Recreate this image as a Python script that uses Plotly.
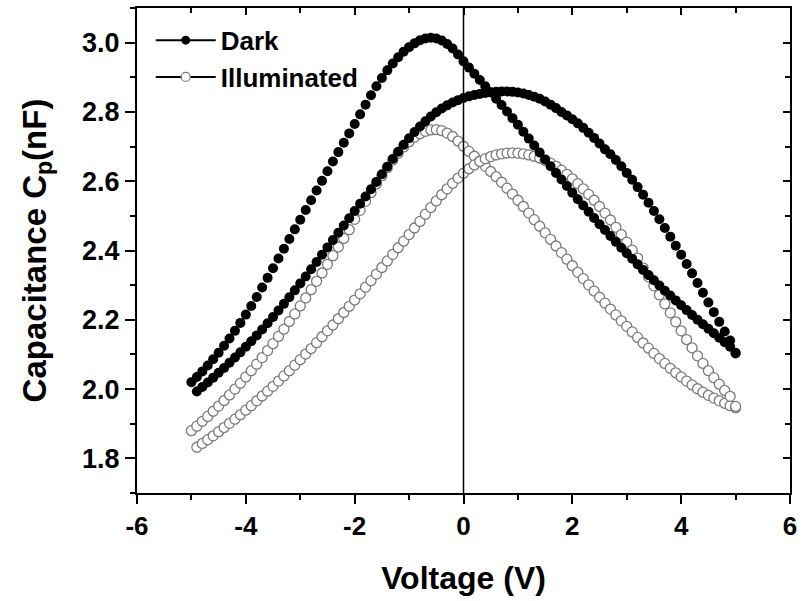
import plotly.graph_objects as go

voltage = [-5.0, -4.9, -4.8, -4.7, -4.6, -4.5, -4.4, -4.3, -4.2, -4.1,
           -4.0, -3.9, -3.8, -3.7, -3.6, -3.5, -3.4, -3.3, -3.2, -3.1,
           -3.0, -2.9, -2.8, -2.7, -2.6, -2.5, -2.4, -2.3, -2.2, -2.1,
           -2.0, -1.9, -1.8, -1.7, -1.6, -1.5, -1.4, -1.3, -1.2, -1.1,
           -1.0, -0.9, -0.8, -0.7, -0.6, -0.5, -0.4, -0.3, -0.2, -0.1,
           0.0, 0.1, 0.2, 0.3, 0.4, 0.5, 0.6, 0.7, 0.8, 0.9,
           1.0, 1.1, 1.2, 1.3, 1.4, 1.5, 1.6, 1.7, 1.8, 1.9,
           2.0, 2.1, 2.2, 2.3, 2.4, 2.5, 2.6, 2.7, 2.8, 2.9,
           3.0, 3.1, 3.2, 3.3, 3.4, 3.5, 3.6, 3.7, 3.8, 3.9,
           4.0, 4.1, 4.2, 4.3, 4.4, 4.5, 4.6, 4.7, 4.8, 4.9, 5.0]

# Dark, sweep branch with peak near -0.6 V
dark_a = [2.020, 2.035, 2.051, 2.068, 2.086, 2.105, 2.125, 2.146, 2.168, 2.191,
          2.215, 2.240, 2.266, 2.293, 2.321, 2.349, 2.377, 2.405, 2.433, 2.461,
          2.489, 2.517, 2.545, 2.573, 2.601, 2.629, 2.657, 2.684, 2.711, 2.738,
          2.765, 2.793, 2.821, 2.848, 2.874, 2.898, 2.920, 2.940, 2.958, 2.974,
          2.987, 2.998, 3.007, 3.012, 3.014, 3.012, 3.006, 2.996, 2.983, 2.966,
          2.946, 2.928, 2.910, 2.892, 2.874, 2.856, 2.838, 2.820, 2.801, 2.782,
          2.763, 2.743, 2.723, 2.703, 2.683, 2.663, 2.643, 2.624, 2.605, 2.586,
          2.567, 2.548, 2.530, 2.512, 2.494, 2.476, 2.459, 2.442, 2.425, 2.408,
          2.392, 2.376, 2.360, 2.344, 2.329, 2.314, 2.299, 2.284, 2.270, 2.256,
          2.242, 2.228, 2.214, 2.200, 2.187, 2.174, 2.161, 2.148, 2.135, 2.122, 2.105]

# Dark, sweep branch with peak near +0.75 V (starts at -4.9 V)
dark_b = [None, 1.993, 2.006, 2.019, 2.033, 2.047, 2.061, 2.076, 2.091, 2.106,
          2.122, 2.138, 2.155, 2.172, 2.190, 2.208, 2.227, 2.246, 2.265, 2.285,
          2.305, 2.325, 2.346, 2.367, 2.388, 2.409, 2.430, 2.451, 2.472, 2.493,
          2.514, 2.535, 2.556, 2.577, 2.598, 2.620, 2.642, 2.664, 2.685, 2.705,
          2.724, 2.742, 2.758, 2.773, 2.787, 2.799, 2.810, 2.819, 2.827, 2.834,
          2.840, 2.845, 2.849, 2.852, 2.855, 2.857, 2.858, 2.859, 2.859, 2.858,
          2.856, 2.853, 2.849, 2.844, 2.838, 2.830, 2.821, 2.811, 2.800, 2.790,
          2.779, 2.767, 2.754, 2.740, 2.725, 2.709, 2.692, 2.678, 2.661, 2.643,
          2.624, 2.604, 2.583, 2.561, 2.538, 2.514, 2.490, 2.465, 2.440, 2.414,
          2.388, 2.361, 2.334, 2.306, 2.278, 2.250, 2.222, 2.194, 2.166, 2.140, 2.103]

# Illuminated, branch with peak near -0.5 V
illum_c = [1.880, 1.893, 1.907, 1.921, 1.936, 1.951, 1.967, 1.983, 2.000, 2.017,
           2.035, 2.053, 2.072, 2.091, 2.111, 2.131, 2.152, 2.173, 2.195, 2.217,
           2.240, 2.263, 2.287, 2.311, 2.335, 2.360, 2.385, 2.410, 2.435, 2.460,
           2.490, 2.516, 2.542, 2.567, 2.592, 2.616, 2.639, 2.661, 2.681, 2.699,
           2.714, 2.727, 2.737, 2.744, 2.748, 2.749, 2.746, 2.739, 2.729, 2.716,
           2.701, 2.686, 2.672, 2.658, 2.643, 2.628, 2.613, 2.597, 2.580, 2.563,
           2.545, 2.527, 2.508, 2.489, 2.470, 2.451, 2.432, 2.413, 2.394, 2.375,
           2.356, 2.337, 2.319, 2.301, 2.283, 2.265, 2.248, 2.231, 2.214, 2.197,
           2.181, 2.165, 2.149, 2.133, 2.118, 2.103, 2.088, 2.074, 2.060, 2.047,
           2.035, 2.023, 2.012, 2.001, 1.991, 1.982, 1.974, 1.966, 1.959, 1.952, 1.946]

# Illuminated, branch with peak near +0.9 V (starts at -4.9 V)
illum_d = [None, 1.832, 1.843, 1.854, 1.865, 1.877, 1.889, 1.901, 1.913, 1.926,
           1.939, 1.952, 1.966, 1.980, 1.994, 2.008, 2.023, 2.038, 2.053, 2.069,
           2.085, 2.101, 2.117, 2.134, 2.151, 2.168, 2.185, 2.203, 2.221, 2.239,
           2.257, 2.275, 2.294, 2.313, 2.332, 2.351, 2.370, 2.389, 2.408, 2.427,
           2.446, 2.465, 2.484, 2.505, 2.524, 2.543, 2.561, 2.578, 2.594, 2.609,
           2.623, 2.636, 2.647, 2.657, 2.665, 2.671, 2.676, 2.679, 2.681, 2.682,
           2.681, 2.679, 2.676, 2.672, 2.667, 2.660, 2.652, 2.643, 2.632, 2.620,
           2.607, 2.593, 2.578, 2.562, 2.545, 2.527, 2.508, 2.488, 2.467, 2.446,
           2.424, 2.401, 2.378, 2.350, 2.324, 2.298, 2.272, 2.246, 2.220, 2.194,
           2.168, 2.143, 2.119, 2.096, 2.074, 2.053, 2.033, 2.014, 1.996, 1.979, 1.950]

x_ticks = [-6, -4, -2, 0, 2, 4, 6]
x_ticktext = ["-6", "-4", "-2", "0", "2", "4", "6"]
y_ticks = [1.8, 2.0, 2.2, 2.4, 2.6, 2.8, 3.0]
y_ticktext = ["1.8", "2.0", "2.2", "2.4", "2.6", "2.8", "3.0"]
x_range = [-6, 6]
y_range = [1.7, 3.1]

FONT = "Arial, Liberation Sans, sans-serif"

open_marker = dict(symbol="circle", size=10, color="white",
                   line=dict(color="#7a7a7a", width=1.3))
dark_marker = dict(symbol="circle", size=10, color="black",
                   line=dict(color="black", width=0))

fig = go.Figure()
for ys in (illum_c, illum_d):
    fig.add_trace(go.Scatter(x=voltage, y=ys, mode="markers", marker=open_marker,
                             showlegend=False, hoverinfo="skip"))
for ys in (dark_a, dark_b):
    fig.add_trace(go.Scatter(x=voltage, y=ys, mode="markers", marker=dark_marker,
                             showlegend=False, hoverinfo="skip"))

# legend entries (line + symbol style)
fig.add_trace(go.Scatter(x=[None], y=[None], mode="lines+markers", name="Dark",
                         line=dict(color="black", width=2),
                         marker=dict(symbol="circle", size=9, color="black")))
fig.add_trace(go.Scatter(x=[None], y=[None], mode="lines+markers", name="Illuminated",
                         line=dict(color="black", width=2),
                         marker=dict(symbol="circle", size=9, color="white",
                                     line=dict(color="#7a7a7a", width=1.2))))

# invisible trace for mirrored top/right axes
fig.add_trace(go.Scatter(x=x_range, y=y_range, xaxis="x2", yaxis="y2", mode="markers",
                         marker=dict(opacity=0), showlegend=False, hoverinfo="skip"))

# zero-voltage reference line
fig.add_shape(type="line", x0=0, x1=0, y0=0, y1=1, xref="x", yref="paper",
              line=dict(color="black", width=1.5))

axis_common = dict(showgrid=False, zeroline=False, showline=True, linecolor="black",
                   linewidth=2)

fig.update_layout(
    width=805, height=601,
    margin=dict(l=137, r=8, t=8, b=108),
    paper_bgcolor="white", plot_bgcolor="white",
    font=dict(family=FONT, color="black"),
    xaxis=dict(range=x_range, tickvals=x_ticks, ticktext=x_ticktext, ticks="outside",
               ticklen=9, tickwidth=2, tickcolor="black",
               minor=dict(dtick=1, ticks="outside", ticklen=5, tickwidth=2, tickcolor="black"),
               tickfont=dict(size=26, weight="bold", family=FONT),
               title=dict(text="Voltage (V)", font=dict(size=32, weight="bold", family=FONT),
                          standoff=26),
               **axis_common),
    yaxis=dict(range=y_range, tickvals=y_ticks, ticktext=y_ticktext, ticks="outside",
               ticklen=10, tickwidth=2, tickcolor="black",
               minor=dict(dtick=0.1, ticks="outside", ticklen=5, tickwidth=2, tickcolor="black"),
               tickfont=dict(size=27, weight="bold", family=FONT),
               title=dict(text="Capacitance C<sub>p</sub>(nF)",
                          font=dict(size=33, weight="bold", family=FONT), standoff=26),
               **axis_common),
    xaxis2=dict(range=x_range, overlaying="x", side="top", tickvals=x_ticks, ticks="inside",
                ticklen=7, tickwidth=2, tickcolor="black", showticklabels=False,
                minor=dict(dtick=1, ticks="inside", ticklen=5, tickwidth=2, tickcolor="black"),
                **axis_common),
    yaxis2=dict(range=y_range, overlaying="y", side="right", tickvals=y_ticks, ticks="inside",
                ticklen=7, tickwidth=2, tickcolor="black", showticklabels=False,
                minor=dict(dtick=0.1, ticks="inside", ticklen=5, tickwidth=2, tickcolor="black"),
                **axis_common),
    legend=dict(x=0.021, y=0.982, xanchor="left", yanchor="top", bgcolor="rgba(0,0,0,0)",
                font=dict(size=26, weight="bold", family=FONT), itemwidth=60,
                tracegroupgap=0),
)

fig.write_html("out.html")
